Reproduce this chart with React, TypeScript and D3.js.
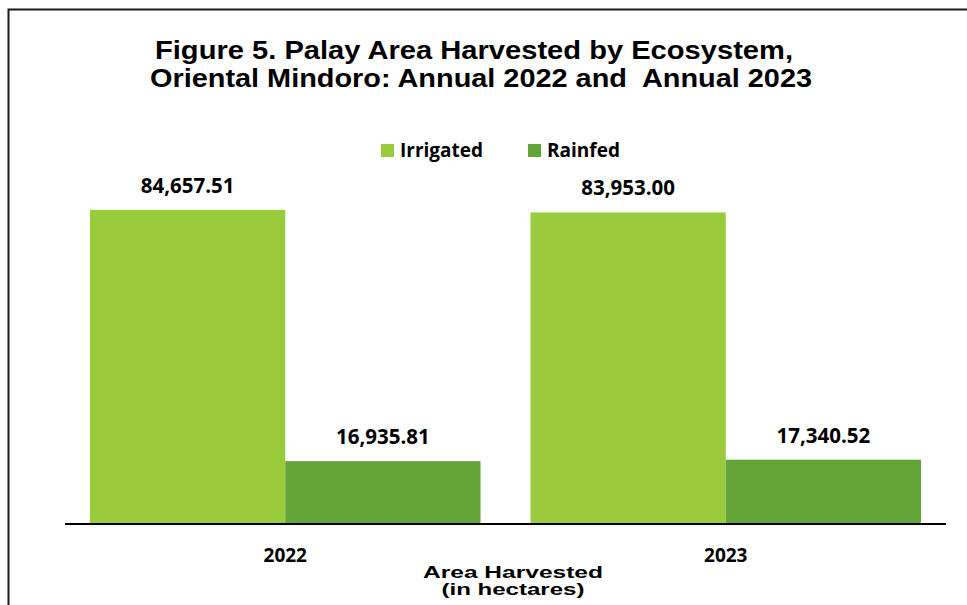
import React from "react";
import * as d3 from "d3";

const years = ["2022", "2023"];
const seriesNames = ["Irrigated", "Rainfed"];
const irrigated = [84657.51, 83953.0];
const rainfed = [16935.81, 17340.52];
const colors = ["#9ACB3C", "#64A438"];
const titleLines = [
  "Figure 5. Palay Area Harvested by Ecosystem,",
  "Oriental Mindoro: Annual 2022 and  Annual 2023",
];
const axisTitle = ["Area Harvested", "(in hectares)"];

const W = 967;
const H = 605;

export default function App() {
  const baseY = 524;
  const x0 = d3.scaleBand<string>().domain(years).range([65, 946]).padding(0);
  const bw = x0.bandwidth();
  const x1 = d3.scaleBand<string>().domain(seriesNames).range([25, bw - 25]).padding(0);
  const y = d3.scaleLinear().domain([0, 90000]).range([baseY, 190]);
  const values = [irrigated, rainfed];
  const fmt = d3.format(",.2f");
  const labelFont = "'Open Sans', sans-serif";
  const titleGeom = [
    { cx: 474, len: 638 },
    { cx: 481, len: 662 },
  ];

  return (
    <svg
      width={W}
      height={H}
      style={{ position: "absolute", left: 0, top: 0, background: "#fff" }}
    >
      <rect x={0} y={0} width={W} height={H} fill="#fff" />
      <rect x={8.5} y={9.5} width={W + 20} height={H + 20} fill="none" stroke="#1a1a1a" strokeWidth={2} />
      {titleLines.map((t, i) => (
        <text
          key={i}
          x={titleGeom[i].cx}
          y={59 + i * 28}
          textAnchor="middle"
          fontFamily="'Liberation Sans', Arial, sans-serif"
          fontWeight="bold"
          fontSize={25}
          textLength={titleGeom[i].len}
          lengthAdjust="spacingAndGlyphs"
          style={{ whiteSpace: "pre" }}
          fill="#000"
        >
          {t}
        </text>
      ))}
      {/* legend */}
      {seriesNames.map((s, i) => {
        const lx = [381, 528][i];
        return (
          <g key={s}>
            <rect x={lx} y={144} width={13} height={13} fill={colors[i]} />
            <text x={lx + 19} y={157} fontFamily={labelFont} fontWeight="bold" fontSize={19} fill="#000">
              {s}
            </text>
          </g>
        );
      })}
      {/* bars */}
      {years.map((yr, gi) => (
        <g key={yr} transform={`translate(${x0(yr)},0)`}>
          {seriesNames.map((s, si) => {
            const v = values[si][gi];
            const bx = x1(s)!;
            const by = y(v);
            return (
              <g key={s}>
                <rect x={bx} y={by} width={x1.bandwidth()} height={baseY - by} fill={colors[si]} />
                <text
                  x={bx + x1.bandwidth() / 2}
                  y={by - 17}
                  textAnchor="middle"
                  fontFamily={labelFont}
                  fontWeight="bold"
                  fontSize={20.5}
                  fill="#000"
                >
                  {fmt(v)}
                </text>
              </g>
            );
          })}
          <text
            x={bw / 2}
            y={562}
            textAnchor="middle"
            fontFamily={labelFont}
            fontWeight="bold"
            fontSize={19}
            fill="#000"
          >
            {yr}
          </text>
        </g>
      ))}
      <line x1={65} x2={946} y1={baseY} y2={baseY} stroke="#000" strokeWidth={2} />
      {axisTitle.map((t, i) => (
        <text
          key={i}
          x={513}
          y={578 + i * 17}
          textAnchor="middle"
          fontFamily="'Liberation Sans', Arial, sans-serif"
          fontWeight="bold"
          fontSize={16.5}
          textLength={i === 0 ? 180 : 143}
          lengthAdjust="spacingAndGlyphs"
          fill="#000"
        >
          {t}
        </text>
      ))}
    </svg>
  );
}
